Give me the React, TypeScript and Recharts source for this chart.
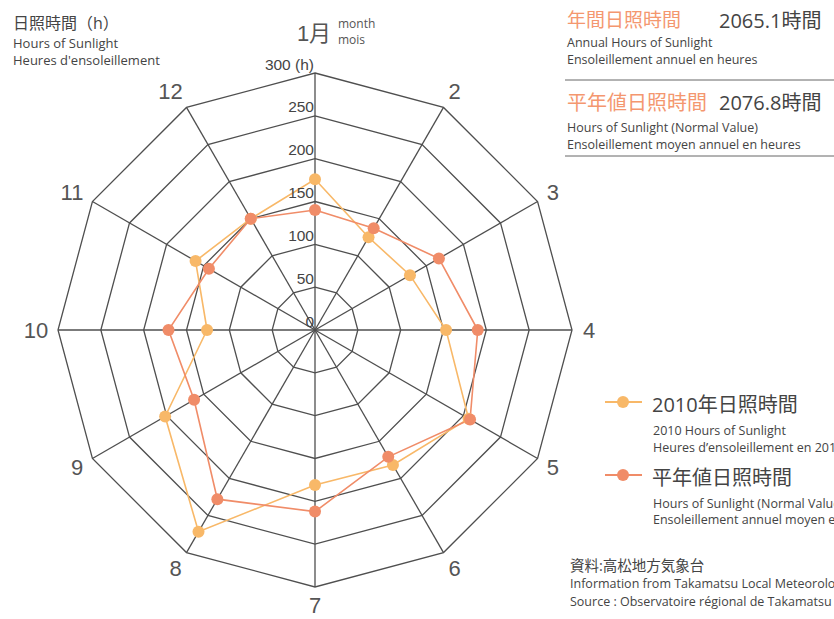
import React from 'react';
import { RadarChart, Radar, PolarGrid, PolarAngleAxis, PolarRadiusAxis } from 'recharts';

const months = ['1', '2', '3', '4', '5', '6', '7', '8', '9', '10', '11', '12'];
const sun2010 = [176, 125, 128, 153, 207, 182, 181, 272, 202, 126, 161, 150];
const sunNormal = [140, 137, 167, 190, 209, 171, 212, 228, 163, 171, 143, 150];
const radiusTicks = [0, 50, 100, 150, 200, 250, 300];

const data = months.map((m, i) => ({ month: m, y2010: sun2010[i], normal: sunNormal[i] }));

const CX = 315;
const CY = 330;
const R = 257;
const C2010 = '#F8B868';
const CNORM = '#F08C68';
const SALMON = '#F4976F';
const TXT = '#444';
const FONT = "'Open Sans', 'Noto Sans CJK JP', sans-serif";
const NUMFONT = "'Liberation Sans', 'Noto Sans CJK JP', sans-serif";

const AngleTick = (props: any) => {
  const { x, y, payload } = props;
  const ccx = typeof props.cx === 'number' ? props.cx : CX;
  const ccy = typeof props.cy === 'number' ? props.cy : CY;
  const dx = x - ccx;
  const dy = y - ccy;
  const d = Math.hypot(dx, dy) || 1;
  const ux = dx / d;
  const uy = dy / d;
  const v = String(payload.value);
  if (v === '1') {
    return (
      <g>
        <text x={x - 1} y={y - 32} textAnchor="middle" dominantBaseline="central" fontSize={22} fill="#555" fontFamily={NUMFONT}>
          1月
        </text>
        <text x={x + 23} y={y - 42} dominantBaseline="central" fontSize={12} fill="#555" fontFamily={FONT}>
          month
        </text>
        <text x={x + 23} y={y - 26} dominantBaseline="central" fontSize={12} fill="#555" fontFamily={FONT}>
          mois
        </text>
      </g>
    );
  }
  const half = v.length * 5;
  const sx = Math.abs(ux) > 0.1 ? Math.sign(ux) : 0;
  const tx = x + ux * 4 + sx * half;
  const ty = y + uy * 10;
  return (
    <text x={tx} y={ty} textAnchor="middle" dominantBaseline="central" fontSize={22} fill="#555" fontFamily={NUMFONT}>
      {v}
    </text>
  );
};

const RadiusTick = (props: any) => {
  const { x, y, payload } = props;
  const v = payload.value;
  return (
    <text x={x - 1} y={y - 9} textAnchor="end" dominantBaseline="central" fontSize={15.5} fill={TXT} fontFamily={NUMFONT}>
      {v === 300 ? '300 (h)' : String(v)}
    </text>
  );
};

const T = (p: any) => (
  <text
    x={p.x}
    y={p.y}
    dominantBaseline="central"
    fontSize={p.size || 13}
    fill={p.fill || TXT}
    fontFamily={FONT}
    textAnchor={p.anchor || 'start'}
  >
    {p.children}
  </text>
);

export default function App() {
  return (
    <div style={{ position: 'absolute', left: 0, top: 0, width: 834, height: 619, background: '#fff', overflow: 'hidden' }}>
      <div style={{ position: 'absolute', left: 0, top: 0 }}>
        <RadarChart
          width={834}
          height={619}
          data={data}
          cx={CX}
          cy={CY}
          outerRadius={R}
          margin={{ top: 0, right: 0, bottom: 0, left: 0 }}
        >
          <PolarGrid gridType="polygon" stroke="#4f4f4f" strokeWidth={1.3} />
          <PolarAngleAxis dataKey="month" tick={<AngleTick />} axisLine={false} tickLine={false} />
          <PolarRadiusAxis
            angle={90}
            domain={[0, 300]}
            ticks={radiusTicks}
            tickCount={7}
            type="number"
            axisLine={false}
            tick={<RadiusTick />}
          />
          <Radar
            dataKey="y2010"
            stroke={C2010}
            strokeWidth={1.6}
            fill="none"
            fillOpacity={0}
            dot={{ r: 6, fill: C2010, stroke: 'none', fillOpacity: 1 }}
            isAnimationActive={false}
          />
          <Radar
            dataKey="normal"
            stroke={CNORM}
            strokeWidth={1.6}
            fill="none"
            fillOpacity={0}
            dot={{ r: 6, fill: CNORM, stroke: 'none', fillOpacity: 1 }}
            isAnimationActive={false}
          />
        </RadarChart>
      </div>
      <svg width={834} height={619} style={{ position: 'absolute', left: 0, top: 0, pointerEvents: 'none' }}>
        {/* top-left */}
        <T x={13} y={23} size={16}>日照時間（h）</T>
        <T x={13} y={43}>Hours of Sunlight</T>
        <T x={13} y={60}>Heures d'ensoleillement</T>

        {/* top-right */}
        <T x={567} y={20} size={19} fill={SALMON}>年間日照時間</T>
        <T x={719} y={20} size={20}>2065.1時間</T>
        <T x={567} y={42} size={12.5}>Annual Hours of Sunlight</T>
        <T x={567} y={59} size={12.5}>Ensoleillement annuel en heures</T>
        <line x1={565} x2={834} y1={80} y2={80} stroke="#666" strokeWidth={1} />
        <T x={567} y={102} size={20} fill={SALMON}>平年値日照時間</T>
        <T x={719} y={102} size={20}>2076.8時間</T>
        <T x={567} y={127} size={12.5}>Hours of Sunlight (Normal Value)</T>
        <T x={567} y={144} size={12.5}>Ensoleillement moyen annuel en heures</T>
        <line x1={565} x2={834} y1={156} y2={156} stroke="#666" strokeWidth={1} />

        {/* legend */}
        <line x1={605} x2={642} y1={402} y2={402} stroke={C2010} strokeWidth={2} />
        <circle cx={623} cy={402} r={6} fill={C2010} />
        <T x={652} y={404} size={20}>2010年日照時間</T>
        <T x={653} y={430} size={12.5}>2010 Hours of Sunlight</T>
        <T x={653} y={447} size={12.5}>Heures d’ensoleillement en 2010</T>
        <line x1={605} x2={642} y1={475} y2={475} stroke={CNORM} strokeWidth={2} />
        <circle cx={623} cy={475} r={6} fill={CNORM} />
        <T x={652} y={477} size={20}>平年値日照時間</T>
        <T x={653} y={503} size={12.5}>Hours of Sunlight (Normal Value)</T>
        <T x={653} y={519} size={12.5}>Ensoleillement annuel moyen en heures</T>

        {/* source */}
        <T x={570} y={565} size={14.5}>資料:高松地方気象台</T>
        <T x={570} y={583} size={12.5}>Information from Takamatsu Local Meteorological Observatory</T>
        <T x={570} y={601} size={12.5}>Source : Observatoire régional de Takamatsu</T>
      </svg>
    </div>
  );
}
